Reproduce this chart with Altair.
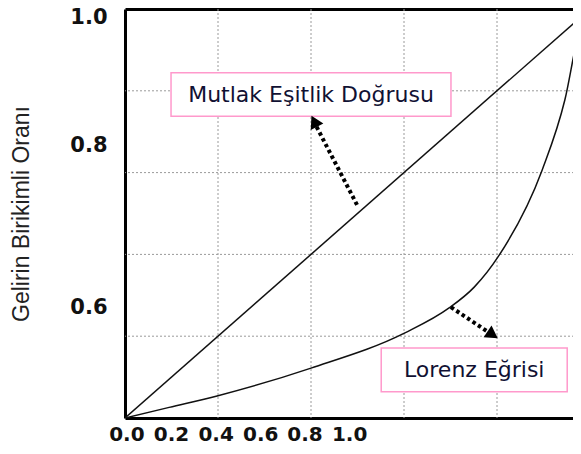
import altair as alt
import pandas as pd

# ---- data ----
grid_vals = [0.2, 0.4, 0.6, 0.8]

equal_x = [0.0, 1.0]
equal_y = [0.0, 1.0]

lorenz_x = [0.0, 0.095, 0.198, 0.400, 0.602, 0.697, 0.751, 0.804, 0.897, 0.946, 0.976, 1.0]
lorenz_y = [0.0, 0.026, 0.054, 0.122, 0.208, 0.269, 0.320, 0.397, 0.606, 0.778, 0.941, 1.0]

# axis labels as they sit in the picture
x_label_pos = [0.003, 0.099, 0.195, 0.291, 0.386, 0.482]
x_label_txt = ["0.0", "0.2", "0.4", "0.6", "0.8", "1.0"]
y_label_pos = [0.269, 0.667, 0.980]
y_label_txt = ["0.6", "0.8", "1.0"]

# annotation boxes
box_text = ["Mutlak Eşitlik Doğrusu", "Lorenz Eğrisi"]
box_x0 = [0.099, 0.551]
box_x1 = [0.701, 0.951]
box_y0 = [0.738, 0.064]
box_y1 = [0.844, 0.171]
box_tx = [0.400, 0.751]
box_ty = [0.790, 0.117]

# arrows
arrow_x0 = [0.499, 0.701]
arrow_y0 = [0.521, 0.271]
arrow_x1 = [0.412, 0.780]
arrow_y1 = [0.712, 0.211]
head_x = [0.409, 0.787]
head_y = [0.721, 0.206]
head_angle = [333, 124]


def label_expr(pos, labels):
    expr = "''"
    for p, l in reversed(list(zip(pos, labels))):
        expr = f"abs(datum.value - {p}) < 0.003 ? '{l}' : {expr}"
    return expr


xs = alt.Scale(domain=[0, 1], nice=False, zero=False)
ys = alt.Scale(domain=[0, 1], nice=False, zero=False)

y_axis = alt.Axis(
    orient="left", values=y_label_pos, labelExpr=label_expr(y_label_pos, y_label_txt),
    domain=True, domainColor="black", domainWidth=3, ticks=False, tickSize=0, grid=False,
    labelFont="DejaVu Sans", labelFontWeight="bold", labelFontSize=21, labelColor="#111111",
    labelPadding=18, labelFlush=False, labelOverlap=False,
    title="Gelirin Birikimli Oranı", titleFont="Liberation Sans", titleFontWeight="normal",
    titleFontSize=23, titleColor="#222222", titleAngle=270, titleX=-104, titleY=204.5,
    titleAlign="center", titleBaseline="middle")

grid_df = pd.DataFrame({"v": grid_vals})
gx = alt.Chart(grid_df).mark_rule(color="#9a9a9a", strokeWidth=1, strokeDash=[2, 2]).encode(
    x=alt.X("v:Q", scale=xs, axis=None))
gy = alt.Chart(grid_df).mark_rule(color="#9a9a9a", strokeWidth=1, strokeDash=[2, 2]).encode(
    y=alt.Y("v:Q", scale=ys, axis=y_axis))

boxes_df = pd.DataFrame({"t": box_text, "x0": box_x0, "x1": box_x1, "y0": box_y0, "y1": box_y1,
                         "tx": box_tx, "ty": box_ty})
boxes = alt.Chart(boxes_df).mark_rect(fill="white", stroke="#ff99cc", strokeWidth=1.5).encode(
    x=alt.X("x0:Q", scale=xs, axis=None), x2="x1", y=alt.Y("y0:Q", scale=ys, axis=y_axis), y2="y1")
texts = alt.Chart(boxes_df).mark_text(font="DejaVu Sans", fontSize=22, color="#111133").encode(
    x=alt.X("tx:Q", scale=xs, axis=None), y=alt.Y("ty:Q", scale=ys, axis=y_axis), text="t:N")

eq_df = pd.DataFrame({"x": equal_x, "y": equal_y})
eq = alt.Chart(eq_df).mark_line(color="#111111", strokeWidth=1.5, clip=True).encode(
    x=alt.X("x:Q", scale=xs, axis=alt.Axis(
        orient="bottom", values=x_label_pos, labelExpr=label_expr(x_label_pos, x_label_txt),
        domain=True, domainColor="black", domainWidth=3, ticks=False, tickSize=0, grid=False,
        labelFont="DejaVu Sans", labelFontWeight="bold", labelFontSize=20, labelColor="#111111",
        labelPadding=6, labelFlush=False, labelOverlap=False, title=None)),
    y=alt.Y("y:Q", scale=ys, axis=y_axis),
)

lz_df = pd.DataFrame({"x": lorenz_x, "y": lorenz_y})
lz = alt.Chart(lz_df).mark_line(color="#111111", strokeWidth=1.5, clip=True, interpolate="monotone").encode(
    x=alt.X("x:Q", scale=xs, axis=alt.Axis(
        orient="top", labels=False, ticks=False, grid=False, domain=True,
        domainColor="black", domainWidth=3, title=None)),
    y=alt.Y("y:Q", scale=ys, axis=y_axis),
)

ar_df = pd.DataFrame({"x0": arrow_x0, "y0": arrow_y0, "x1": arrow_x1, "y1": arrow_y1})
arrows = alt.Chart(ar_df).mark_rule(color="black", strokeWidth=4, strokeDash=[3.5, 3]).encode(
    x=alt.X("x0:Q", scale=xs, axis=None), y=alt.Y("y0:Q", scale=ys, axis=y_axis), x2="x1", y2="y1")
hd_df = pd.DataFrame({"x": head_x, "y": head_y, "a": head_angle})
heads = alt.Chart(hd_df).mark_point(shape="triangle", filled=True, color="black", opacity=1, size=200).encode(
    x=alt.X("x:Q", scale=xs, axis=None), y=alt.Y("y:Q", scale=ys, axis=y_axis),
    angle=alt.Angle("a:Q", scale=None))

chart = alt.layer(gx, gy, boxes, texts, eq, lz, arrows, heads).resolve_axis(
    x="independent"
).properties(
    width=465, height=409,
    autosize=alt.AutoSizeParams(type="none"),
    padding={"left": 117, "top": 1, "right": -17, "bottom": 28},
).configure_view(stroke="transparent", strokeWidth=0)

chart.save("out.html", embed_options={"renderer": "svg", "actions": False})
